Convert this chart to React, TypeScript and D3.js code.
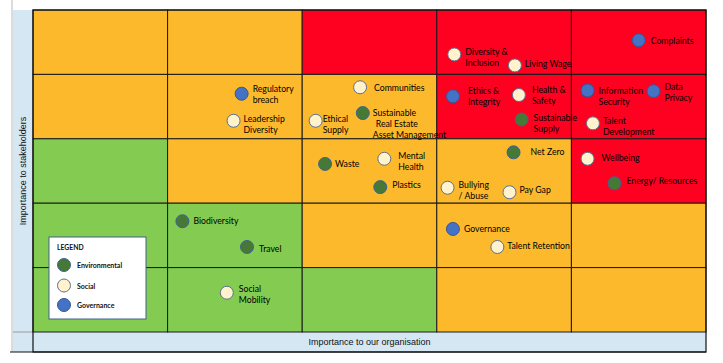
import * as d3 from 'd3';

// risk matrix: 5x5, row 0 = top (highest importance to stakeholders)
const levels = [1, 2, 3, 4, 5];
const zoneGrid = [
    ['amber', 'amber', 'red', 'red', 'red'],
    ['amber', 'amber', 'amber', 'red', 'red'],
    ['green', 'amber', 'amber', 'amber', 'red'],
    ['green', 'green', 'amber', 'amber', 'amber'],
    ['green', 'green', 'green', 'amber', 'amber'],
];

const categories = ['Environmental', 'Social', 'Governance'];

// topic, category, importance to organisation, importance to stakeholders (0-5)
const topicNames = [
    'Complaints', 'Diversity &\nInclusion', 'Living Wage', 'Regulatory\nbreach', 'Leadership\nDiversity',
    'Communities', 'Ethical\nSupply', 'Sustainable\n Real Estate\nAsset Management', 'Ethics &\nIntegrity',
    'Health &\nSafety', 'Sustainable\nSupply', 'Information\nSecurity', 'Data\nPrivacy', 'Talent\nDevelopment',
    'Waste', 'Mental\nHealth', 'Plastics', 'Net Zero', 'Bullying\n/ Abuse', 'Pay Gap', 'Wellbeing',
    'Energy/ Resources', 'Governance', 'Talent Retention', 'Biodiversity', 'Travel', 'Social\nMobility',
];
const topicCategory = [
    'Governance', 'Social', 'Social', 'Governance', 'Social',
    'Social', 'Social', 'Environmental', 'Governance',
    'Social', 'Environmental', 'Governance', 'Governance', 'Social',
    'Environmental', 'Social', 'Environmental', 'Environmental', 'Social', 'Social', 'Social',
    'Environmental', 'Governance', 'Social', 'Environmental', 'Environmental', 'Social',
];
const orgImportance = [
    4.50, 3.13, 3.58, 1.55, 1.49,
    2.43, 2.10, 2.45, 3.12,
    3.61, 3.63, 4.12, 4.61, 4.16,
    2.17, 2.61, 2.58, 3.57, 3.08, 3.54, 4.12,
    4.32, 3.12, 3.45, 1.11, 1.59, 1.44,
];
const stakeholderImportance = [
    4.53, 4.31, 4.14, 3.70, 3.28,
    3.80, 3.28, 3.40, 3.66,
    3.68, 3.30, 3.75, 3.74, 3.24,
    2.61, 2.69, 2.25, 2.79, 2.24, 2.17, 2.69,
    2.31, 1.60, 1.32, 1.72, 1.32, 0.61,
];

// label placement relative to marker: [dx, dy of first line]
const labelOffsets: [number, number][] = [
    [12, 0], [11, -3], [10, -2], [11, -6], [10, -3],
    [14, 0], [7, -3], [10, -1], [15, -6],
    [13, -6], [12, -2], [11, -1], [11, -5], [10, -3],
    [10, -1], [14, -4], [12, -3], [17, -1], [11, -4], [10, -3], [14, -2],
    [12, -3], [11, -1], [10, -2], [11, -1], [12, 1], [12, -5],
];

const W = 723;
const H = 363;
const zoneColor: Record<string, string> = { amber: '#FCB92C', red: '#FE0020', green: '#83CB51' };
const catFill: Record<string, string> = { Environmental: '#467836', Social: '#FFF2CC', Governance: '#4472C4' };
const catStroke: Record<string, string> = { Environmental: '#41628F', Social: '#5B7190', Governance: '#34579A' };
const labelFont = 'Lato, "Open Sans", sans-serif';

export default function App() {
    const left = 33, right = 706, top = 10, bottom = 332;
    const x = d3.scaleLinear().domain([0, 5]).range([left, right]);
    const y = d3.scaleLinear().domain([0, 5]).range([bottom, top]);
    const band = d3.scaleBand<number>().domain(levels).range([0, 5]);

    const points = topicNames.map((name, i) => ({
        name,
        cat: topicCategory[i],
        ox: orgImportance[i],
        sy: stakeholderImportance[i],
        off: labelOffsets[i],
    }));

    return (
        <svg width={W} height={H} style={{ position: 'absolute', left: 0, top: 0, background: '#fff' }}>
            {/* axis bands */}
            <rect x={13} y={top} width={left - 13} height={352 - top} fill="#D6E7F4" />
            <rect x={left} y={bottom} width={right - left} height={20} fill="#D6E7F4" />
            <line x1={12} x2={12} y1={0} y2={352} stroke="#b8b8b8" />
            <line x1={13} x2={left} y1={bottom} y2={bottom} stroke="#9a9a9a" />

            {/* zones */}
            {zoneGrid.map((row, r) => row.map((z, c) => {
                const x0 = x(band(levels[c])!);
                const x1 = x(band(levels[c])! + band.bandwidth());
                const y0 = y(5 - band(levels[r])!);
                const y1 = y(5 - band(levels[r])! - band.bandwidth());
                return <rect key={`${r}-${c}`} x={x0} y={y0} width={x1 - x0} height={y1 - y0}
                    fill={zoneColor[z]} stroke="#1a1a1a" strokeWidth={1} />;
            }))}
            <rect x={left} y={top} width={right - left} height={352 - top} fill="none" stroke="#111" strokeWidth={1.2} />
            <line x1={10} x2={right} y1={352} y2={352} stroke="#111" strokeWidth={1.2} />

            {/* axis titles */}
            <text x={(left + right) / 2} y={342} textAnchor="middle" dominantBaseline="central"
                fontFamily='"Liberation Sans", Arial, sans-serif' fontSize={9} fill="#111">
                Importance to our organisation
            </text>
            <text transform={`translate(23,${(top + bottom) / 2}) rotate(-90)`} textAnchor="middle"
                dominantBaseline="central" fontFamily='"Liberation Sans", Arial, sans-serif' fontSize={9} fill="#111">
                Importance to stakeholders
            </text>

            {/* topics */}
            {points.map((p, i) => {
                const cx = x(p.ox), cy = y(p.sy);
                const lines = p.name.split('\n');
                return (
                    <g key={i}>
                        <circle cx={cx} cy={cy} r={6.5} fill={catFill[p.cat]} stroke={catStroke[p.cat]} strokeWidth={1} />
                        <text x={cx + p.off[0]} y={cy + p.off[1]} fontFamily={labelFont} fontSize={8.7} fill="#000"
                            dominantBaseline="central">
                            {lines.map((l, j) => (
                                <tspan key={j} x={cx + p.off[0] + (l.startsWith(' ') ? 3 : 0)} dy={j === 0 ? 0 : 11}>
                                    {l.trim()}
                                </tspan>
                            ))}
                        </text>
                    </g>
                );
            })}

            {/* legend */}
            <g transform="translate(49,237)">
                <rect width={97} height={82} fill="#fff" stroke="#41628F" strokeWidth={1} />
                <text x={8} y={10} fontFamily={labelFont} fontSize={6.8} fontWeight="bold" fill="#111"
                    dominantBaseline="central">LEGEND</text>
                {categories.map((c, i) => (
                    <g key={c} transform={`translate(15,${28 + [0, 20.5, 40][i]})`}>
                        <circle r={6.5} fill={catFill[c]} stroke={catStroke[c]} strokeWidth={1} />
                        <text x={13} fontFamily={labelFont} fontSize={7} fontWeight="bold" fill="#111"
                            dominantBaseline="central">{c}</text>
                    </g>
                ))}
            </g>
        </svg>
    );
}
